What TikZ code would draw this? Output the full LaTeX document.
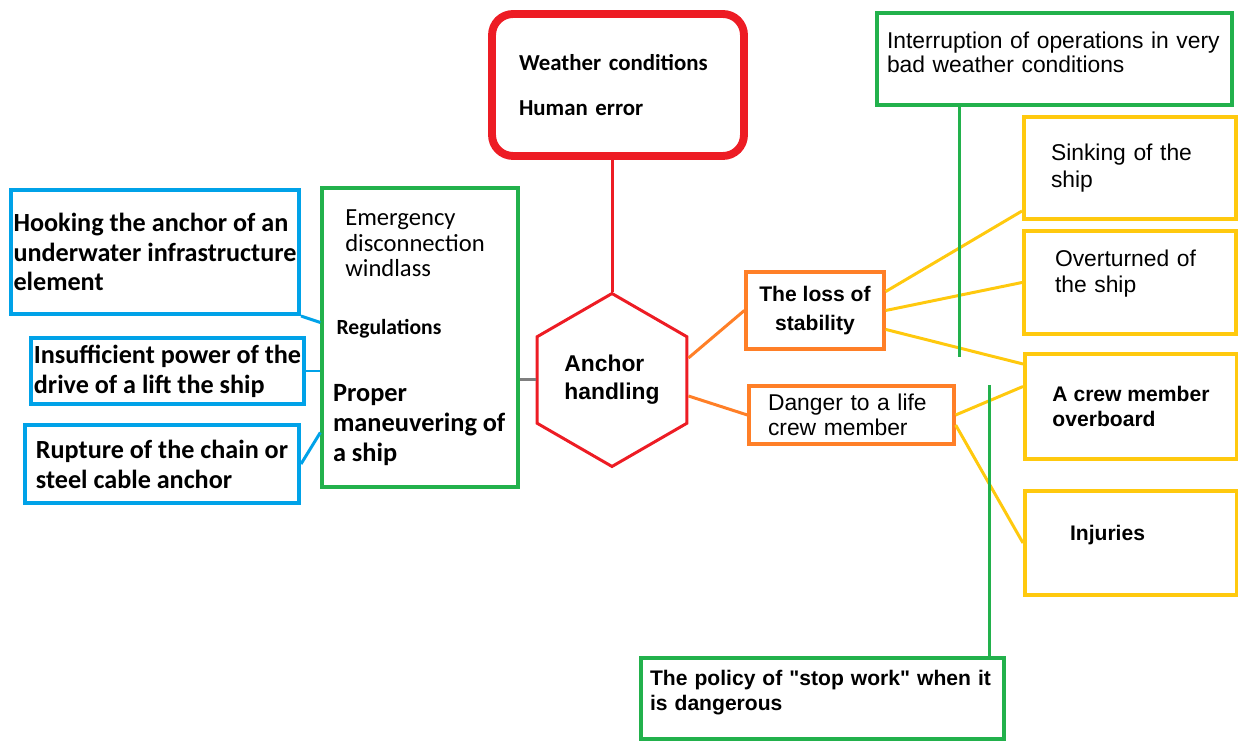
\documentclass[tikz,border=0pt]{standalone}
\usepackage{fontspec}
\setmainfont{Liberation Sans}[Ligatures=TeXOff]
\newfontfamily\calib{Carlito}
\usetikzlibrary{shapes.geometric}
\definecolor{pred}{HTML}{ED1C24}
\definecolor{pgreen}{HTML}{22B14C}
\definecolor{pblue}{HTML}{00A2E8}
\definecolor{porange}{HTML}{FF7F27}
\definecolor{pyellow}{HTML}{FFC90E}
\definecolor{pgrey}{HTML}{7F7F7F}
\newcommand\padbelow[1]{\rule[-#1]{0pt}{#1}}

\begin{document}
\begin{tikzpicture}[x=0.02cm, y=-0.02cm, line width=1.7pt,
  box/.style={draw, rectangle, inner sep=1pt, align=left},
  bluebox/.style={box, draw=pblue, line width=2.3pt, inner sep=0pt, font=\calib\bfseries\fontsize{14.9}{17}\selectfont},
  yellowbox/.style={box, draw=pyellow, line width=2.3pt, minimum width=4.24cm},
  orangebox/.style={box, draw=porange, line width=1.9pt},
  greenbox/.style={box, draw=pgreen, line width=1.9pt}]
  \useasboundingbox (0,0) rectangle (1238,742);
  \node[draw=pred, line width=4.5pt, rounded corners=0.42cm, minimum width=5.04cm, minimum height=2.84cm, text width=3.96cm, align=left, font=\calib\bfseries\fontsize{13}{25.6}\selectfont] (hazards) at (618,85) {Weather conditions\\Human error};
  \node[draw=pred, regular polygon, regular polygon sides=6, shape border rotate=30, minimum size=3.46cm, inner sep=0pt, align=left, font=\bfseries\fontsize{13}{16}\selectfont] (hex) at (612,380) {Anchor\\handling};
  \node[greenbox, minimum width=3.92cm, minimum height=5.98cm, text width=3.48cm, font=\calib] (barriers) at (420,337.5) {%
    {\fontsize{14}{14.5}\selectfont\hspace*{7pt}Emergency\\\hspace*{7pt}disconnection\\\hspace*{7pt}windlass\par}
    \vspace{19pt}
    {\bfseries\fontsize{12.3}{14}\selectfont\hspace*{2pt}Regulations\par}
    \vspace{21pt}
    {\bfseries\fontsize{15}{17}\selectfont Proper\\maneuvering of\\a ship\par}};
  \node[bluebox, minimum width=5.76cm, minimum height=2.48cm] (hook) at (155,252) {Hooking the anchor of an\\underwater infrastructure\\element};
  \node[bluebox, minimum width=5.46cm, minimum height=1.32cm] (power) at (167.5,371) {Insufficient power of the\\drive of a lift the ship};
  \node[bluebox, minimum width=5.48cm, minimum height=1.56cm] (rupture) at (162,464) {Rupture of the chain or\\steel cable anchor};
  \node[orangebox, align=center, minimum width=2.76cm, minimum height=1.54cm, font=\bfseries\fontsize{12}{17}\selectfont] (loss) at (815,310.5) {The loss of\\stability};
  \node[orangebox, minimum width=4.1cm, minimum height=1.16cm, text width=3.34cm, font=\fontsize{13}{14.2}\selectfont] (danger) at (851.5,415) {Danger to a life\\crew member};
  \node[yellowbox, minimum height=2.04cm, text width=3.16cm, font=\fontsize{13}{15}\selectfont] (sink) at (1130,168) {Sinking of the\\ship};
  \node[yellowbox, minimum height=2.06cm, text width=3.0cm, font=\fontsize{13}{14.8}\selectfont] (overturn) at (1130,282.5) {Overturned of\\the ship\padbelow{12.6pt}};
  \node[yellowbox, minimum height=2.1cm, font=\bfseries\fontsize{12}{14.2}\selectfont] (overboard) at (1131,406.5) {A crew member\\overboard};
  \node[yellowbox, minimum height=2.08cm, text width=2.44cm, font=\bfseries\fontsize{12}{14.2}\selectfont] (injuries) at (1131,543) {Injuries\padbelow{12pt}};
  \node[greenbox, minimum width=7.1cm, minimum height=1.84cm, text width=6.7cm, font=\fontsize{13}{13.7}\selectfont] (interrupt) at (1054.5,59) {Interruption of operations in very\\bad weather conditions\padbelow{7.5pt}};
  \node[greenbox, minimum width=7.26cm, minimum height=1.62cm, text width=6.9cm, font=\bfseries\fontsize{12}{14.2}\selectfont] (stopwork) at (822.5,698.5) {The policy of "stop work" when it\\is dangerous\padbelow{9.6pt}};
  \draw[pred] (hex.north |- hazards.south) -- (hex.north);
  \draw[pgrey] (hex.west) -- (hex.west -| barriers.east);
  \draw[pblue] (hook.south east) -- ([yshift=0.3cm]barriers.west);
  \draw[pblue] (power.east) -- (power.east -| barriers.west);
  \draw[pblue] (rupture.east) -- ([yshift=-1.9cm]barriers.west);
  \draw[porange] ([yshift=0.44cm]hex.east) -- (loss.west);
  \draw[porange] ([yshift=-0.32cm]hex.east) -- (danger.west);
  \draw[pyellow] (loss.15) -- ([yshift=0.2cm]sink.south west);
  \draw[pyellow] (loss.east) -- (overturn.west);
  \draw[pyellow] (loss.-15) -- ([yshift=-0.24cm]overboard.north west);
  \draw[pyellow] (danger.east) -- ([yshift=0.4cm]overboard.west);
  \draw[pyellow] ([yshift=-0.2cm]danger.east) -- (injuries.west);
  \coordinate (gstop) at (959,357);
  \coordinate (gpol) at (989,385);
  \draw[pgreen] (interrupt.south -| gstop) -- (gstop);
  \draw[pgreen] (gpol) -- (gpol |- stopwork.north);
\end{tikzpicture}
\end{document}
